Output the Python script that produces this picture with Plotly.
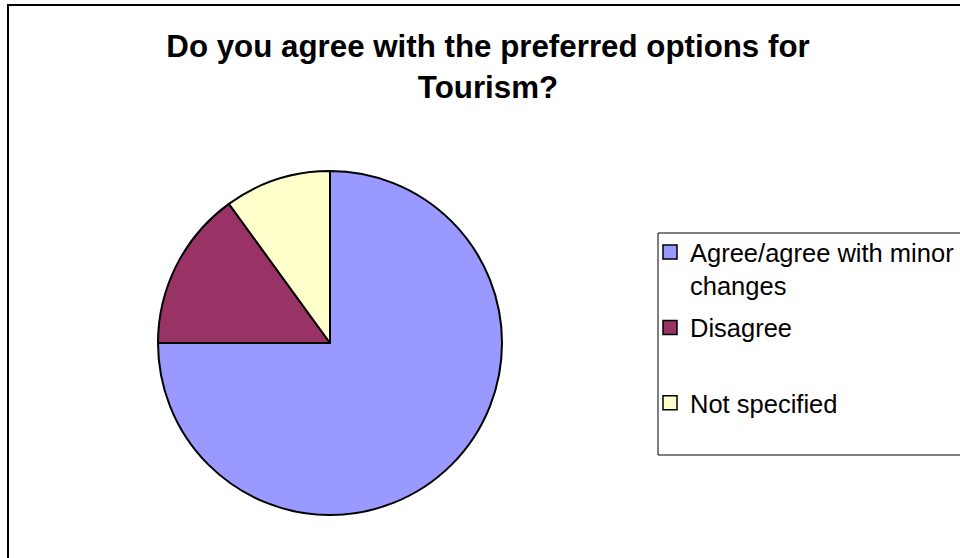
import plotly.graph_objects as go

categories = ["Agree/agree with minor changes", "Disagree", "Not specified"]
legend_labels = ["Agree/agree with minor<br>changes", "Disagree<br> ", "Not specified"]
values = [75, 15, 10]
colors = ["#9999FF", "#993366", "#FFFFCC"]
title_text = "Do you agree with the preferred options for<br>Tourism?"

W, H = 960, 558
FONT = "Arial, 'Liberation Sans', sans-serif"

# pie geometry in pixels
cx, cy, r = 330, 343, 172

fig = go.Figure()
fig.add_trace(go.Pie(
    labels=categories,
    values=values,
    sort=False,
    direction="clockwise",
    rotation=0,
    textinfo="none",
    hoverinfo="label+percent",
    showlegend=False,
    marker=dict(colors=colors, line=dict(color="black", width=2)),
    domain=dict(x=[(cx - r) / W, (cx + r) / W],
                y=[(H - cy - r) / H, (H - cy + r) / H]),
))

# legend entries (one per slice)
for lab, col in zip(legend_labels, colors):
    fig.add_trace(go.Scatter(
        x=[None], y=[None], mode="markers", name=lab, legendgroup=lab,
        marker=dict(symbol="square", size=14, color=col,
                    line=dict(color="black", width=1.5)),
        hoverinfo="skip",
    ))

shapes = [
    # outer chart frame (extends past the right/bottom edge)
    dict(type="rect", xref="paper", yref="paper",
         x0=8 / W, x1=1.05, y0=-0.05, y1=1 - 5 / H,
         line=dict(color="black", width=2), fillcolor="rgba(0,0,0,0)"),
    # legend box (extends past the right edge)
    dict(type="rect", xref="paper", yref="paper",
         x0=658 / W, x1=1.05, y0=1 - 455 / H, y1=1 - 233 / H,
         line=dict(color="black", width=1), fillcolor="rgba(0,0,0,0)"),
]

fig.update_layout(
    width=W, height=H,
    margin=dict(l=0, r=0, t=0, b=0),
    paper_bgcolor="white",
    plot_bgcolor="white",
    font=dict(family=FONT, color="black"),
    xaxis=dict(visible=False),
    yaxis=dict(visible=False),
    title=dict(text=title_text, x=488 / W, xanchor="center",
               y=1 - 57 / H, yanchor="top", yref="container",
               font=dict(family=FONT, size=31.3, weight="bold", color="black")),
    legend=dict(x=650 / W, xanchor="left", y=1 - 229 / H, yanchor="top",
                font=dict(family=FONT, size=25.5, color="black"),
                bgcolor="rgba(0,0,0,0)", borderwidth=0, valign="top",
                traceorder="grouped", tracegroupgap=6),
    shapes=shapes,
)

fig.write_html(
    "out.html",
    config={"displayModeBar": False},
    post_script="document.body.style.margin='0';document.body.style.overflow='hidden';",
)
